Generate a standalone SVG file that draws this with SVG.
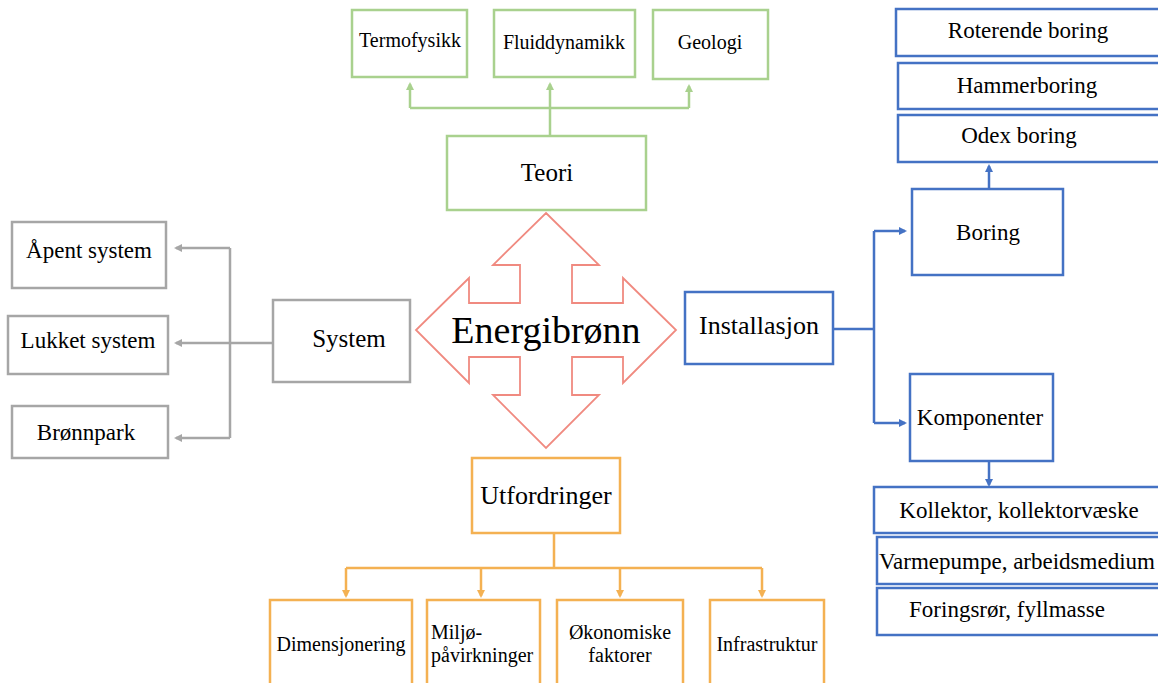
<svg xmlns="http://www.w3.org/2000/svg" width="1158" height="683" viewBox="0 0 1158 683">
<defs>
<style>
text{font-family:"Liberation Serif","Times New Roman",serif;fill:#000}
.g{fill:#fff;stroke:#A9D18E;stroke-width:2.5}
.b{fill:#fff;stroke:#4472C4;stroke-width:2.5}
.o{fill:#fff;stroke:#F4B152;stroke-width:2.5}
.k{fill:#fff;stroke:#A6A6A6;stroke-width:2.5}
.lg{fill:none;stroke:#A9D18E;stroke-width:2.5}
.lb{fill:none;stroke:#4472C4;stroke-width:2.5}
.lo{fill:none;stroke:#F4B152;stroke-width:2.5}
.lk{fill:none;stroke:#A6A6A6;stroke-width:2.5}
.c{text-anchor:middle}
</style>
<marker id="ag" markerWidth="8" markerHeight="8" refX="6" refY="4" orient="auto" markerUnits="userSpaceOnUse"><path d="M0,0 L8,4 L0,8 Z" fill="#A9D18E"/></marker>
<marker id="ab" markerWidth="8" markerHeight="8" refX="6" refY="4" orient="auto" markerUnits="userSpaceOnUse"><path d="M0,0 L8,4 L0,8 Z" fill="#4472C4"/></marker>
<marker id="ao" markerWidth="8" markerHeight="8" refX="6" refY="4" orient="auto" markerUnits="userSpaceOnUse"><path d="M0,0 L8,4 L0,8 Z" fill="#F4B152"/></marker>
<marker id="ak" markerWidth="8" markerHeight="8" refX="6" refY="4" orient="auto" markerUnits="userSpaceOnUse"><path d="M0,0 L8,4 L0,8 Z" fill="#A6A6A6"/></marker>
</defs>
<rect width="1158" height="683" fill="#fff"/>

<g id="connectors">
<path class="lg" d="M550,136 V108 M410,108 H689" />
<path class="lg" d="M410,108 V84" marker-end="url(#ag)"/>
<path class="lg" d="M550,108 V84" marker-end="url(#ag)"/>
<path class="lg" d="M689,108 V86" marker-end="url(#ag)"/>
<path class="lk" d="M273,343 H230 M230,248 V438"/>
<path class="lk" d="M230,248 H176" marker-end="url(#ak)"/>
<path class="lk" d="M230,343 H176" marker-end="url(#ak)"/>
<path class="lk" d="M230,438 H176" marker-end="url(#ak)"/>
<path class="lb" d="M833,329 H874 M874,231 V423"/>
<path class="lb" d="M874,231 H905" marker-end="url(#ab)"/>
<path class="lb" d="M874,423 H905" marker-end="url(#ab)"/>
<path class="lb" d="M989,189 V166" marker-end="url(#ab)"/>
<path class="lb" d="M989,461 V485" marker-end="url(#ab)"/>
<path class="lo" d="M554,533 V568 M346,568 H762"/>
<path class="lo" d="M346,568 V596" marker-end="url(#ao)"/>
<path class="lo" d="M481,568 V596" marker-end="url(#ao)"/>
<path class="lo" d="M620,568 V596" marker-end="url(#ao)"/>
<path class="lo" d="M762,568 V596" marker-end="url(#ao)"/>
</g>

<g id="energibronn">
<polygon points="546,213 599,265 572,265 572,303 623,303 623,278 676,330 623,383 623,357 572,357 572,395 599,395 546,448 493,395 520,395 520,357 469,357 469,383 416,330 469,278 469,303 520,303 520,265 493,265" fill="#fff" stroke="#F08A80" stroke-width="1.8"/>
<text class="c" x="546" y="343" font-size="38">Energibrønn</text>
</g>

<g id="teori"><rect class="g" x="447" y="136" width="199" height="74"/><text class="c" x="547" y="181" font-size="25">Teori</text></g>
<g id="termofysikk"><rect class="g" x="352" y="10" width="115" height="67"/><text class="c" x="410" y="47" font-size="20">Termofysikk</text></g>
<g id="fluiddynamikk"><rect class="g" x="494" y="10" width="141" height="67"/><text class="c" x="564" y="49" font-size="20">Fluiddynamikk</text></g>
<g id="geologi"><rect class="g" x="653" y="10" width="115" height="69"/><text class="c" x="710" y="49" font-size="20">Geologi</text></g>

<g id="system"><rect class="k" x="273" y="300" width="137" height="82"/><text class="c" x="349" y="347" font-size="25">System</text></g>
<g id="apent"><rect class="k" x="12" y="222" width="154" height="66"/><text class="c" x="89" y="258" font-size="23">Åpent system</text></g>
<g id="lukket"><rect class="k" x="8" y="316" width="160" height="58"/><text class="c" x="88" y="348" font-size="23">Lukket system</text></g>
<g id="bronnpark"><rect class="k" x="12" y="406" width="156" height="52"/><text class="c" x="86" y="440" font-size="23">Brønnpark</text></g>

<g id="installasjon"><rect class="b" x="685" y="292" width="148" height="72"/><text class="c" x="759" y="334" font-size="26">Installasjon</text></g>
<g id="boring"><rect class="b" x="912" y="189" width="151" height="86"/><text class="c" x="988" y="240" font-size="23">Boring</text></g>
<g id="odex"><rect class="b" x="898" y="115" width="270" height="47"/><text class="c" x="1019" y="143" font-size="23">Odex boring</text></g>
<g id="hammer"><rect class="b" x="898" y="63" width="270" height="46"/><text class="c" x="1027" y="93" font-size="23">Hammerboring</text></g>
<g id="roterende"><rect class="b" x="896" y="9" width="272" height="47"/><text class="c" x="1028" y="38" font-size="23">Roterende boring</text></g>
<g id="komponenter"><rect class="b" x="910" y="374" width="143" height="87"/><text class="c" x="980" y="425" font-size="23">Komponenter</text></g>
<g id="kollektor"><rect class="b" x="874" y="487" width="294" height="46"/><text class="c" x="1019" y="518" font-size="23">Kollektor, kollektorvæske</text></g>
<g id="varmepumpe"><rect class="b" x="877" y="537" width="291" height="47"/><text x="879" y="569" font-size="23">Varmepumpe, arbeidsmedium</text></g>
<g id="foringsror"><rect class="b" x="877" y="588" width="291" height="47"/><text class="c" x="1007" y="617" font-size="23">Foringsrør, fyllmasse</text></g>

<g id="utfordringer"><rect class="o" x="472" y="458" width="148" height="75"/><text class="c" x="546" y="504" font-size="26">Utfordringer</text></g>
<g id="dimensjonering"><rect class="o" x="270" y="600" width="142" height="95"/><text class="c" x="341" y="651" font-size="20">Dimensjonering</text></g>
<g id="miljo"><rect class="o" x="427" y="600" width="113" height="95"/><text x="431" y="639" font-size="20">Miljø-</text><text x="431" y="662" font-size="20">påvirkninger</text></g>
<g id="okonomiske"><rect class="o" x="557" y="600" width="126" height="95"/><text class="c" x="620" y="639" font-size="20">Økonomiske</text><text class="c" x="620" y="662" font-size="20">faktorer</text></g>
<g id="infrastruktur"><rect class="o" x="710" y="600" width="114" height="95"/><text class="c" x="767" y="651" font-size="20">Infrastruktur</text></g>
</svg>
